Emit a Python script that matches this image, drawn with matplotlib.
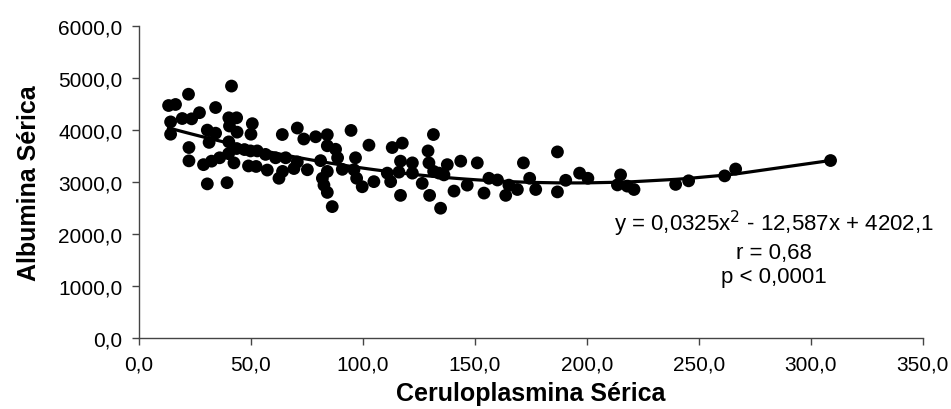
import numpy as np
import matplotlib
matplotlib.use("Agg")
from matplotlib import pyplot as plt
from matplotlib.ticker import FuncFormatter

plt.rcParams['font.family'] = ['Liberation Sans', 'DejaVu Sans']

# Ceruloplasmina serica (x) vs albumina serica (y)
ceruloplasmina = [
    13.2, 16.3, 22.1, 41.3, 14.1, 19.3, 23.5, 27.0, 34.2, 14.1,
    30.5, 34.2, 40.1, 43.6, 40.4, 43.8, 50.6, 50.0, 31.3, 40.1,
    22.3, 22.3, 28.8, 32.4, 36.0, 40.0, 43.6, 42.4, 47.1, 48.9,
    49.8, 30.5, 39.3, 52.8, 56.5, 61.0, 65.5, 70.7, 75.2, 52.3,
    57.3, 62.5, 64.1, 69.2, 64.0, 70.7, 73.6, 78.9, 84.1, 94.7,
    84.1, 87.8, 88.7, 81.1, 84.1, 90.8, 81.9, 82.6, 84.1, 86.3,
    96.7, 96.0, 99.7, 102.7, 104.9, 110.9, 112.4, 113.1, 117.6, 116.8,
    116.1, 116.8, 122.1, 122.1, 126.5, 129.1, 129.5, 129.8, 131.5, 131.6,
    134.0, 136.2, 137.7, 134.7, 140.7, 143.7, 151.1, 146.6, 154.1, 156.3,
    160.1, 163.8, 165.2, 169.0, 171.7, 174.5, 177.2, 186.9, 186.9, 190.6,
    196.8, 200.5, 213.7, 215.1, 218.1, 221.1, 239.7, 245.5, 261.6, 266.5,
    308.9, 97.2,
]
albumina = [
    4472, 4492, 4689, 4846, 4157, 4222, 4216, 4334, 4433, 3920,
    3999, 3940, 4236, 4236, 4078, 3960, 4123, 3920, 3763, 3773,
    3664, 3408, 3335, 3402, 3467, 3546, 3645, 3369, 3625, 3310,
    3599, 2965, 2988, 3599, 3532, 3467, 3467, 3388, 3237, 3300,
    3231, 3073, 3205, 3260, 3914, 4039, 3828, 3871, 3910, 3993,
    3698, 3631, 3467, 3412, 3205, 3245, 3073, 2941, 2801, 2528,
    3467, 3237, 2910, 3710, 3008, 3172, 3008, 3664, 3749, 3402,
    3191, 2744, 3369, 3172, 2975, 3599, 3369, 2744, 3914, 3205,
    3172, 3138, 3335, 2497, 2827, 3402, 3369, 2941, 2788, 3073,
    3040, 2744, 2941, 2857, 3369, 3073, 2857, 2811, 3580, 3034,
    3172, 3073, 2945, 3138, 2922, 2857, 2955, 3024, 3119, 3251,
    3414, 3073,
]

# polynomial trend line as printed on the chart
coef_a, coef_b, coef_c = 0.0325, -12.587, 4202.1
eq_text = "y = 0,0325x$^2$ - 12,587x + 4202,1"
r_text = "r = 0,68"
p_text = "p < 0,0001"

x_ticks = [0, 50, 100, 150, 200, 250, 300, 350]
y_ticks = [0, 1000, 2000, 3000, 4000, 5000, 6000]

x = np.array(ceruloplasmina)
y = np.array(albumina)

fig = plt.figure(figsize=(9.51, 4.10), dpi=100)
ax = fig.add_axes([0.1462, 0.173, 0.8239, 0.761])

ax.scatter(x, y, s=85, c='black', edgecolors='none', zorder=3)

xs = np.sort(x)
ax.plot(xs, coef_a * xs**2 + coef_b * xs + coef_c, color='black', lw=2.3, zorder=2)

ax.set_xlim(0, 350)
ax.set_ylim(0, 6000)
ax.set_xticks(x_ticks)
ax.set_yticks(y_ticks)
comma = FuncFormatter(lambda v, pos: ('%.1f' % v).replace('.', ','))
ax.xaxis.set_major_formatter(comma)
ax.yaxis.set_major_formatter(comma)

for side in ['top', 'right']:
    ax.spines[side].set_visible(False)
for side in ['left', 'bottom']:
    ax.spines[side].set_color('#444444')
    ax.spines[side].set_linewidth(1.0)
ax.tick_params(direction='out', length=5, width=1.0, color='#444444',
               labelsize=15)
ax.tick_params(axis='y', pad=7)
ax.tick_params(axis='x', pad=7)

ax.set_xlabel("Ceruloplasmina Sérica", fontsize=18, fontweight='bold', labelpad=5)
ax.set_ylabel("Albumina Sérica", fontsize=18, fontweight='bold', labelpad=12)

ax.text(0.814, 0.394, eq_text + "\n" + r_text + "\n" + p_text,
        transform=fig.transFigure, ha='center', va='center',
        multialignment='center', fontsize=16, linespacing=1.2)

fig.savefig("out.png", dpi=100)
